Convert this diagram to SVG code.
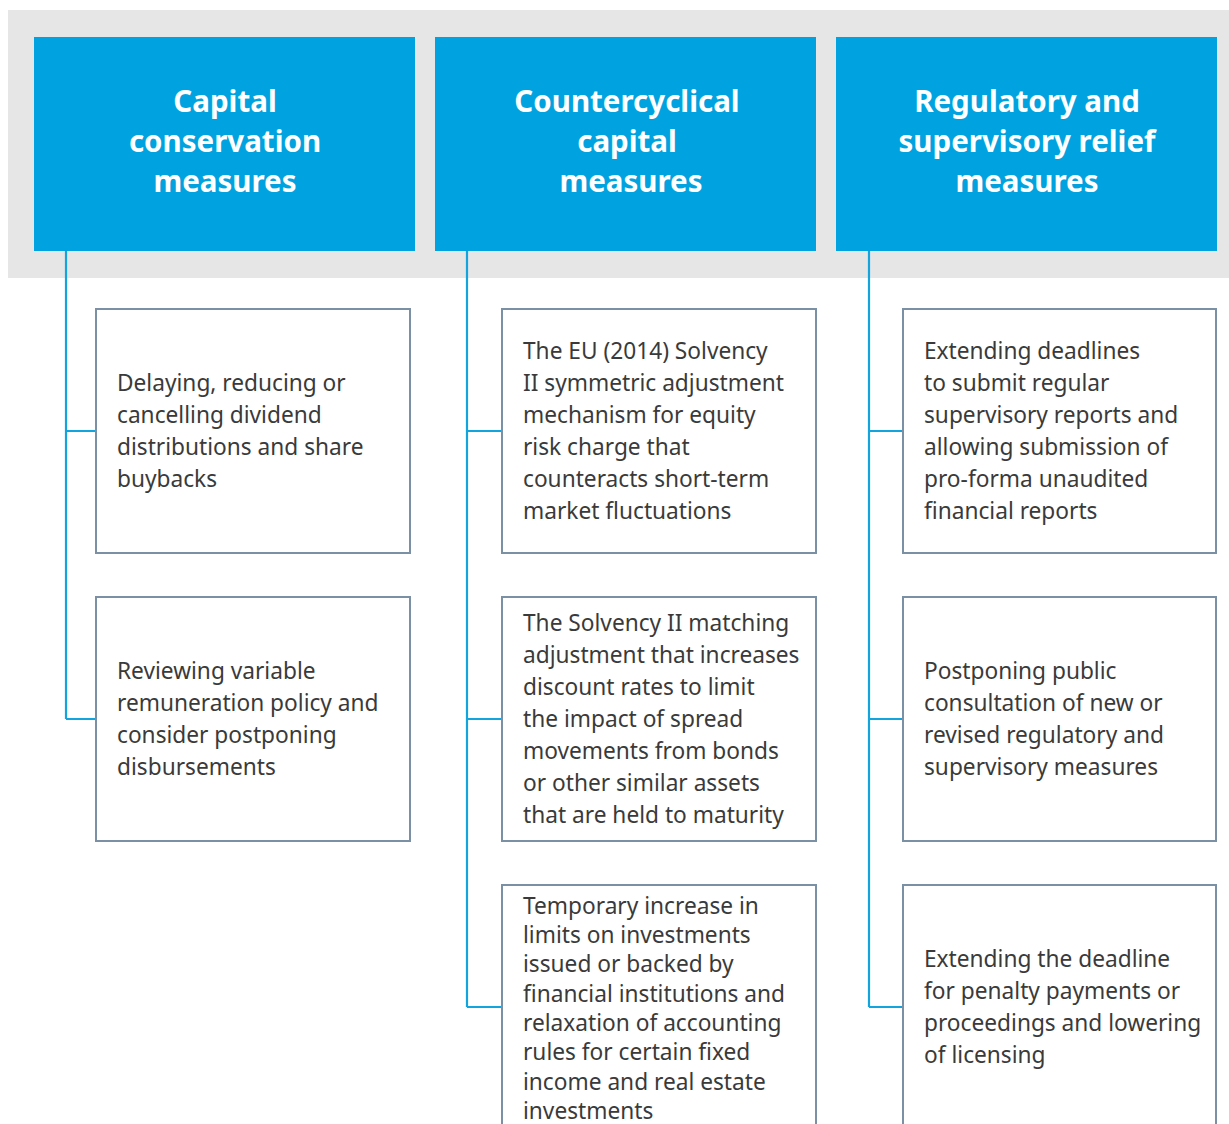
<svg xmlns="http://www.w3.org/2000/svg" width="1229" height="1124" viewBox="0 0 1229 1124">
<style>
.hdr{fill:#00a3e0}
.hdrt{font-family:"Noto Sans","Open Sans",sans-serif;font-weight:bold;font-size:29.5px;fill:#fff;text-anchor:middle}
.box{fill:#fff;stroke:#7b8fa5;stroke-width:2}
.bt{font-family:"Noto Sans","Open Sans",sans-serif;font-size:22.7px;fill:#3a3a3a}
.con{stroke:#12a4dd;stroke-width:2.2;fill:none}
</style>
<rect x="0" y="0" width="1229" height="1124" fill="#fff"/>
<rect x="8" y="10" width="1221" height="268" fill="#e6e6e6"/>
<g id="connectors">
<path class="con" d="M66 251V719M66 431H95M66 719H95"/>
<path class="con" d="M467 251V1007M467 431H501M467 719H501M467 1007H501"/>
<path class="con" d="M869 251V1007M869 431H902M869 719H902M869 1007H902"/>
</g>
<g id="h1"><rect class="hdr" x="34" y="37" width="381" height="214"/>
<text class="hdrt"><tspan x="225" y="112">Capital</tspan><tspan x="225" y="152">conservation</tspan><tspan x="225" y="192">measures</tspan></text></g>
<g id="h2"><rect class="hdr" x="435" y="37" width="381" height="214"/>
<text class="hdrt"><tspan x="627" y="112">Countercyclical</tspan><tspan x="627" y="152">capital</tspan><tspan x="631" y="192">measures</tspan></text></g>
<g id="h3"><rect class="hdr" x="836" y="37" width="381" height="214"/>
<text class="hdrt"><tspan x="1027" y="112">Regulatory and</tspan><tspan x="1027" y="152">supervisory relief</tspan><tspan x="1027" y="192">measures</tspan></text></g>
<g id="b11"><rect class="box" x="96" y="309" width="314" height="244"/>
<text class="bt"><tspan x="117" y="391">Delaying, reducing or</tspan><tspan x="117" y="423">cancelling dividend</tspan><tspan x="117" y="455">distributions and share</tspan><tspan x="117" y="487">buybacks</tspan></text></g>
<g id="b12"><rect class="box" x="96" y="597" width="314" height="244"/>
<text class="bt"><tspan x="117" y="679">Reviewing variable</tspan><tspan x="117" y="711">remuneration policy and</tspan><tspan x="117" y="743">consider postponing</tspan><tspan x="117" y="775">disbursements</tspan></text></g>
<g id="b21"><rect class="box" x="502" y="309" width="314" height="244"/>
<text class="bt"><tspan x="523" y="359">The EU (2014) Solvency</tspan><tspan x="523" y="391">II symmetric adjustment</tspan><tspan x="523" y="423">mechanism for equity</tspan><tspan x="523" y="455">risk charge that</tspan><tspan x="523" y="487">counteracts short-term</tspan><tspan x="523" y="519">market fluctuations</tspan></text></g>
<g id="b22"><rect class="box" x="502" y="597" width="314" height="244"/>
<text class="bt"><tspan x="523" y="631">The Solvency II matching</tspan><tspan x="523" y="663">adjustment that increases</tspan><tspan x="523" y="695">discount rates to limit</tspan><tspan x="523" y="727">the impact of spread</tspan><tspan x="523" y="759">movements from bonds</tspan><tspan x="523" y="791">or other similar assets</tspan><tspan x="523" y="823">that are held to maturity</tspan></text></g>
<g id="b23"><rect class="box" x="502" y="885" width="314" height="260"/>
<text class="bt"><tspan x="523" y="914">Temporary increase in</tspan><tspan x="523" y="943">limits on investments</tspan><tspan x="523" y="972">issued or backed by</tspan><tspan x="523" y="1002">financial institutions and</tspan><tspan x="523" y="1031">relaxation of accounting</tspan><tspan x="523" y="1060">rules for certain fixed</tspan><tspan x="523" y="1090">income and real estate</tspan><tspan x="523" y="1119">investments</tspan></text></g>
<g id="b31"><rect class="box" x="903" y="309" width="313" height="244"/>
<text class="bt"><tspan x="924" y="359">Extending deadlines</tspan><tspan x="924" y="391">to submit regular</tspan><tspan x="924" y="423">supervisory reports and</tspan><tspan x="924" y="455">allowing submission of</tspan><tspan x="924" y="487">pro-forma unaudited</tspan><tspan x="924" y="519">financial reports</tspan></text></g>
<g id="b32"><rect class="box" x="903" y="597" width="313" height="244"/>
<text class="bt"><tspan x="924" y="679">Postponing public</tspan><tspan x="924" y="711">consultation of new or</tspan><tspan x="924" y="743">revised regulatory and</tspan><tspan x="924" y="775">supervisory measures</tspan></text></g>
<g id="b33"><rect class="box" x="903" y="885" width="313" height="260"/>
<text class="bt"><tspan x="924" y="967">Extending the deadline</tspan><tspan x="924" y="999">for penalty payments or</tspan><tspan x="924" y="1031">proceedings and lowering</tspan><tspan x="924" y="1063">of licensing</tspan></text></g>
</svg>
